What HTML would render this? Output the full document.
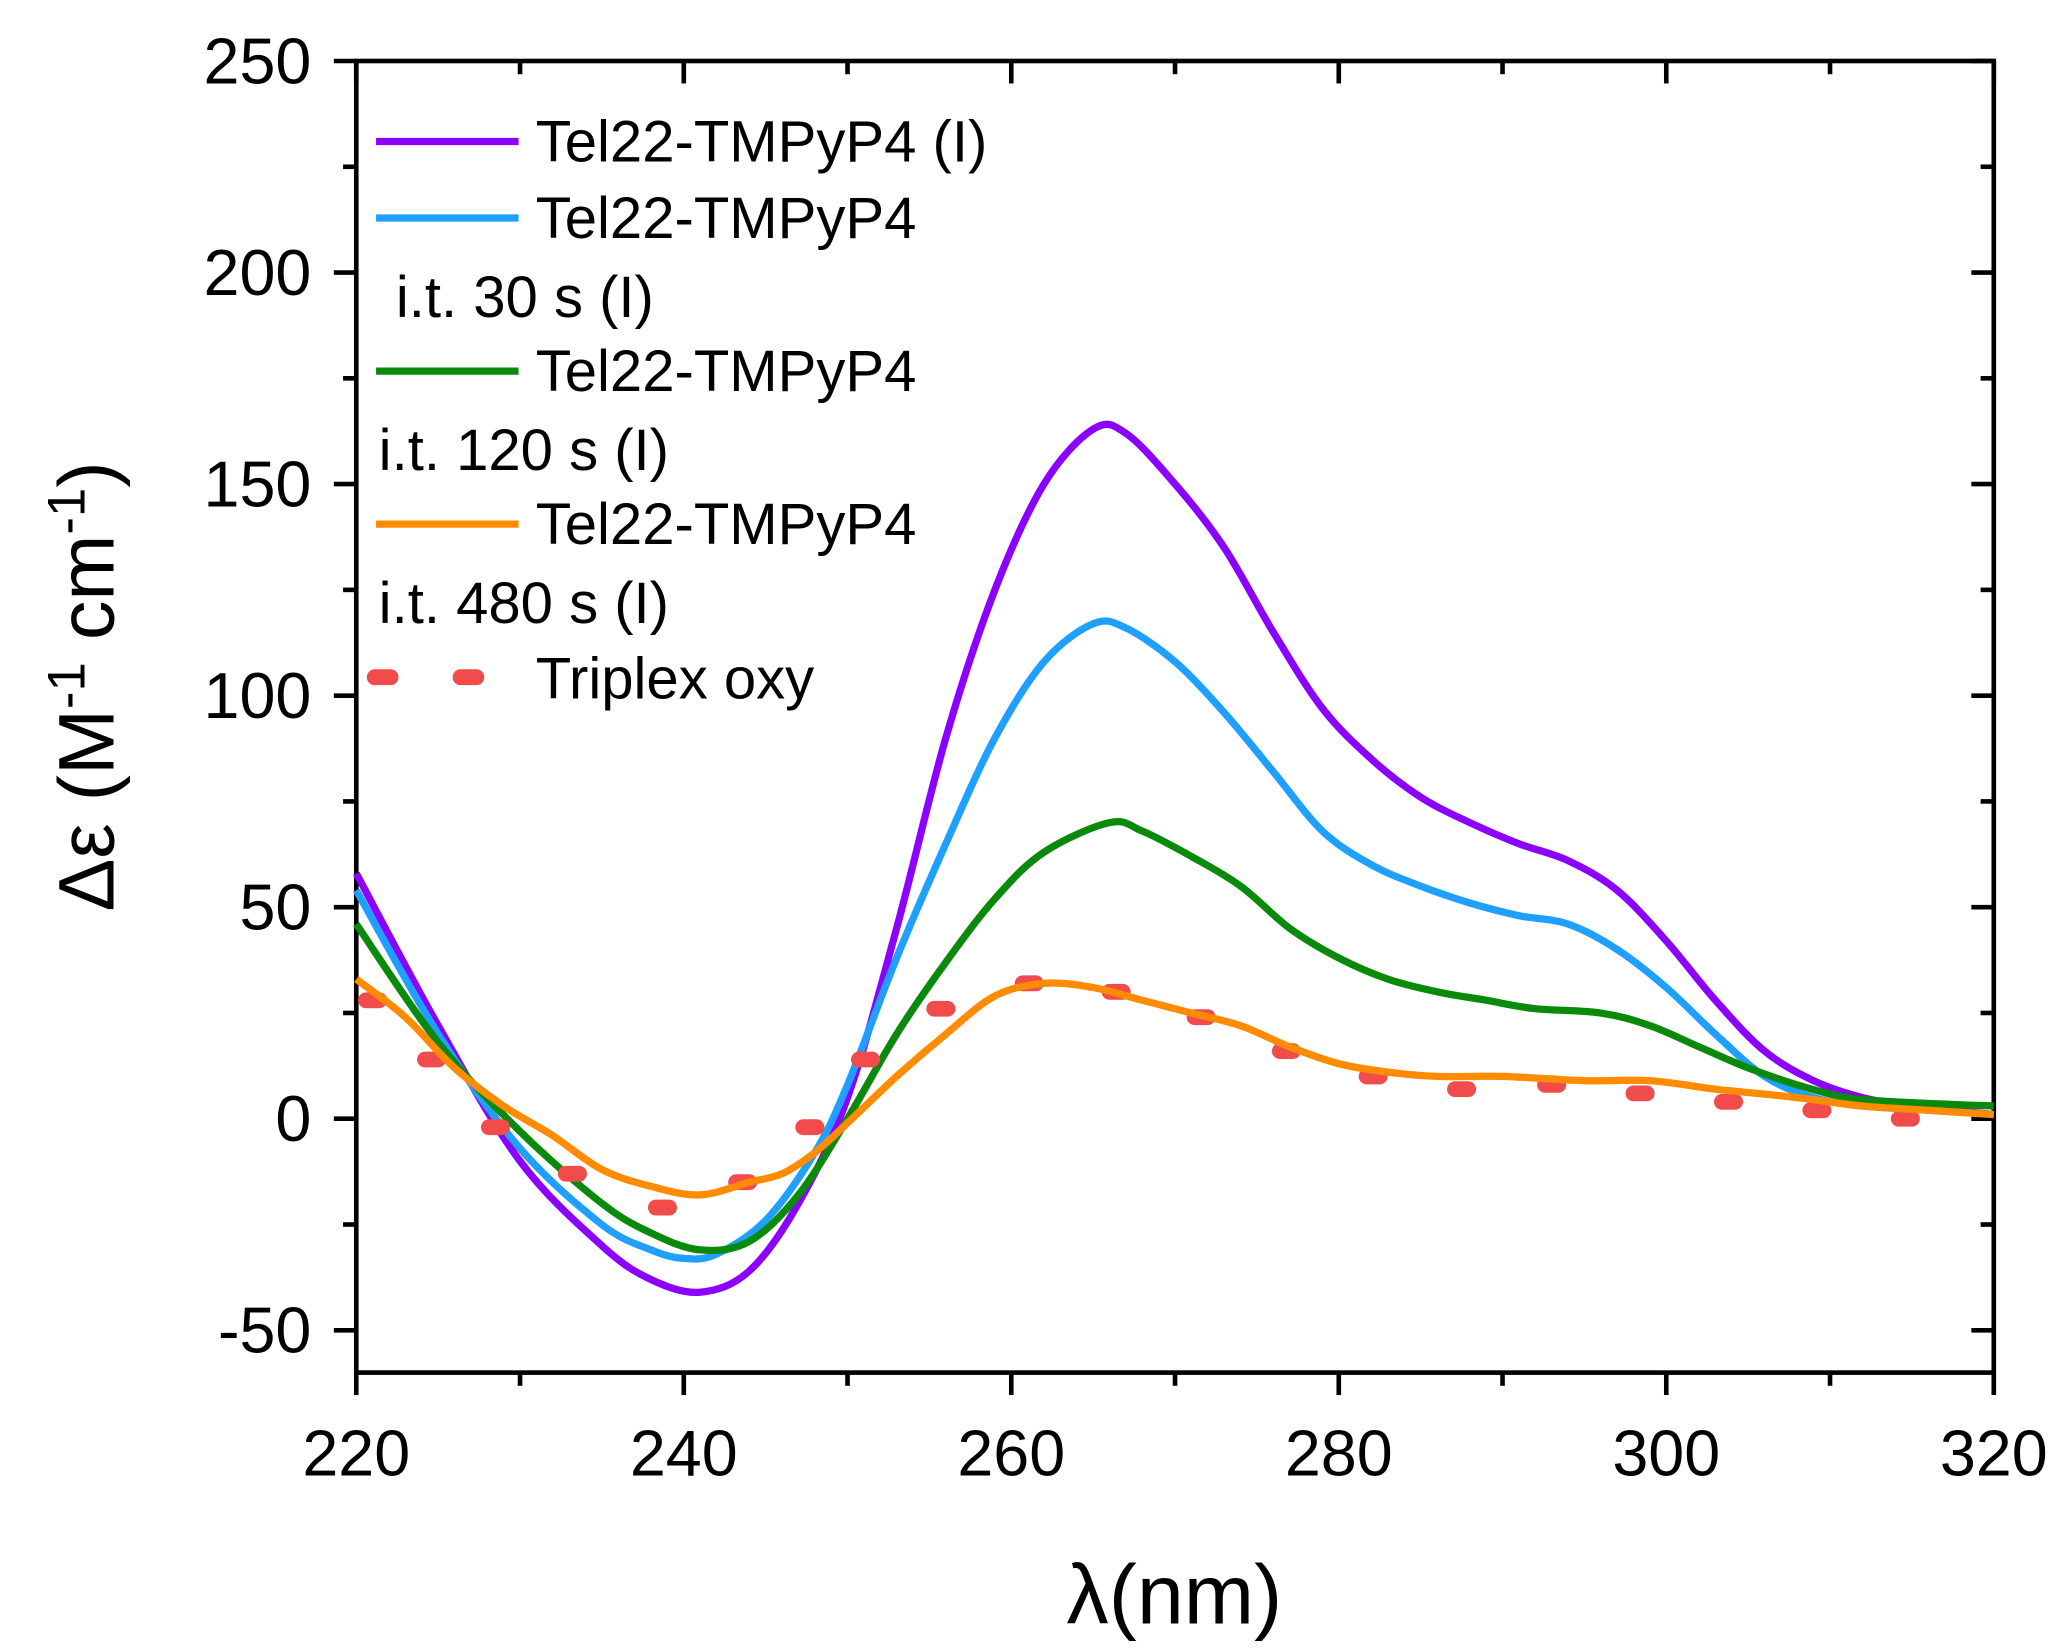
<!DOCTYPE html>
<html><head><meta charset="utf-8"><style>body{margin:0;background:#fff}svg{display:block}text{font-family:"Liberation Sans",sans-serif;fill:#000}</style></head>
<body>
<svg id="chart" width="2069" height="1650" viewBox="0 0 1568 1250" xmlns="http://www.w3.org/2000/svg">
<g id="axes"></g><g id="series"></g><g id="legend"></g>
</svg>
<script>
const xTicks=[220,240,260,280,300,320];
const yTicks=[-50,0,50,100,150,200,250];
const purpleX=[220,225,230,235,238,241,244,247,250,253,256,259,262,265,267,270,273,276,279,282,285,288,291,294,297,300,303,306,309,312,315,320];
const purpleY=[58,22,-10,-30,-38,-41,-36,-20,5,45,90,125,150,163,162,150,135,115,97,85,76,70,65,61,54,42,28,16,9,5,3,1];
const blueX=[220,225,230,235,238,240,242,245,248,250,253,256,259,262,265,267,270,273,276,279,282,285,288,291,294,297,300,303,306,309,312,316,320];
const blueY=[54,20,-7,-25,-31,-33,-32,-24,-8,8,38,65,90,108,117,116,108,96,82,68,60,55,51,48,46,40,31,20,10,5,3,2,1];
const greenX=[220,225,230,235,238,241,244,247,250,253,256,259,262,266,268,271,274,277,280,283,286,289,292,296,299,302,305,308,311,314,320];
const greenY=[46,18,-3,-20,-27,-31,-29,-18,0,20,37,52,63,70,68,62,55,45,38,33,30,28,26,25,22,17,12,8,5,4,3];
const orangeX=[220,223,226,229,232,235,238,241,244,246,248,250,253,256,259,262,265,268,271,274,277,280,283,286,290,295,299,303,308,312,316,320];
const orangeY=[33,24,12,3,-4,-12,-16,-18,-15,-13,-8,-1,10,20,29,32,31,28,25,22,17,13,11,10,10,9,9,7,5,3,2,1];
const triplexX=[221,224.6,228.5,233.2,238.7,243.6,247.7,251.1,255.7,261.1,266.4,271.6,276.8,282.1,287.5,293,298.4,303.8,309.2,314.6];
const triplexY=[28,14,-2,-13,-21,-15,-2,14,26,32,30,24,16,10,7,8,6,4,2,0];

const L=270,R=1511,T=46,B=1040;
const sx=v=>L+(v-220)/100*(R-L);
const sy=v=>B-(v+60)/310*(B-T);
const NS="http://www.w3.org/2000/svg";
function mk(tag,attrs,parent){const e=document.createElementNS(NS,tag);for(const k in attrs)e.setAttribute(k,attrs[k]);parent.appendChild(e);return e;}
const axes=document.getElementById('axes');
const frame=mk('rect',{x:L,y:T,width:R-L,height:B-T,fill:'none',stroke:'#000','stroke-width':3.5},axes);


for(let v=220;v<=320;v+=10){const x=sx(v);const maj=v%20===0;const len=maj?17:10;
 const t=mk('line',{x1:x,x2:x,y1:B,y2:B+len,stroke:'#000','stroke-width':3.5},axes);
 
 const t2=mk('line',{x1:x,x2:x,y1:T,y2:T+len,stroke:'#000','stroke-width':3.5},axes);
 }
for(let v=-50;v<=250;v+=25){const y=sy(v);const maj=v%50===0;const len=maj?17:10;
 const t=mk('line',{x1:L-len,x2:L,y1:y,y2:y,stroke:'#000','stroke-width':3.5},axes);
 
 const t2=mk('line',{x1:R-len,x2:R,y1:y,y2:y,stroke:'#000','stroke-width':3.5},axes);
 }
xTicks.forEach(v=>{const t=mk('text',{x:sx(v),y:1118,'font-size':49,'text-anchor':'middle'},axes);t.textContent=v;
 });
yTicks.forEach(v=>{const t=mk('text',{x:236,y:sy(v)+17,'font-size':49,'text-anchor':'end'},axes);t.textContent=v;
 });
const xt=mk('text',{x:890,y:1230,'font-size':64,'text-anchor':'middle'},axes);xt.textContent='λ(nm)';

const yt=mk('text',{x:0,y:0,'font-size':60,'text-anchor':'middle',transform:'translate(86,520) rotate(-90)'},axes);
yt.innerHTML='Δε (M<tspan dy="-22" font-size="40">-1</tspan><tspan dy="22"> cm</tspan><tspan dy="-22" font-size="40">-1</tspan><tspan dy="22">)</tspan>';


const ser=document.getElementById('series');
function line(xs,ys,color,name){
 const P=xs.map((x,i)=>[sx(x),sy(ys[i])]);
 let d='M'+P[0][0].toFixed(1)+','+P[0][1].toFixed(1);
 for(let i=0;i<P.length-1;i++){const p0=P[Math.max(0,i-1)],p1=P[i],p2=P[i+1],p3=P[Math.min(P.length-1,i+2)];
  const c1=[p1[0]+(p2[0]-p0[0])/6,p1[1]+(p2[1]-p0[1])/6],c2=[p2[0]-(p3[0]-p1[0])/6,p2[1]-(p3[1]-p1[1])/6];
  d+='C'+c1.map(v=>v.toFixed(1)).join(',')+' '+c2.map(v=>v.toFixed(1)).join(',')+' '+p2.map(v=>v.toFixed(1)).join(',');}
 const p=mk('path',{d:d,fill:'none',stroke:color,'stroke-width':5.5,'stroke-linejoin':'round'},ser);
 }
line(purpleX,purpleY,'#8b00ff','series-tel22-tmpyp4');
line(blueX,blueY,'#1fa0ff','series-it-30s');
line(greenX,greenY,'#0a8a0a','series-it-120s');
triplexX.forEach((x,i)=>{const c=mk('line',{x1:sx(x)-5,x2:sx(x)+5,y1:sy(triplexY[i]),y2:sy(triplexY[i]),stroke:'#f24b4b','stroke-width':12,'stroke-linecap':'round'},ser);
 });
line(orangeX,orangeY,'#ff8c00','series-it-480s');

const lg=document.getElementById('legend');
const items=[['#8b00ff',107,'Tel22-TMPyP4 (I)'],['#1fa0ff',165,'Tel22-TMPyP4'],['#0a8a0a',281,'Tel22-TMPyP4'],['#ff8c00',397,'Tel22-TMPyP4']];
items.forEach(it=>{const l=mk('line',{x1:285,x2:393,y1:it[1],y2:it[1],stroke:it[0],'stroke-width':5.5},lg);
 
 const t=mk('text',{x:406,y:it[1]+15,'font-size':44},lg);t.textContent=it[2];
 });
[[300,240,'i.t. 30 s (I)'],[287,356,'i.t. 120 s (I)'],[287,472,'i.t. 480 s (I)']].forEach(it=>{
 const t=mk('text',{x:it[0],y:it[1],'font-size':44},lg);t.textContent=it[2];
 });
[290,355].forEach(x=>{const d=mk('line',{x1:x-6,x2:x+6,y1:513,y2:513,stroke:'#f24b4b','stroke-width':12,'stroke-linecap':'round'},lg);
 });
const tt=mk('text',{x:406,y:529,'font-size':44},lg);tt.textContent='Triplex oxy';

</script>
</body></html>
